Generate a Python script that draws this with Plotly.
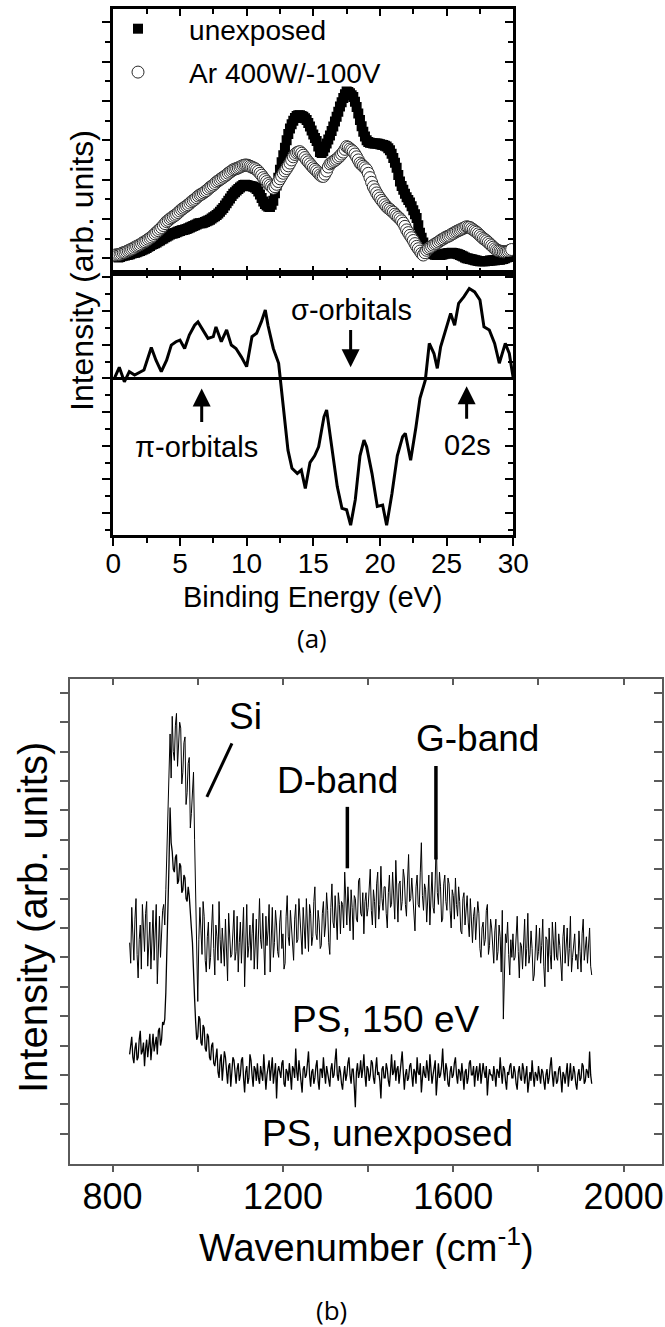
import plotly.graph_objects as go

FONT = "Liberation Sans, Arial, Helvetica, sans-serif"

# ---------------- Panel (a): UPS spectra ----------------
be_start, be_step = 0.125, 0.125          # binding energy grid (eV)
unexposed = [
    0.05, 0.04, 0.02, 0.03, 0.05, 0.06, 0.07, 0.08,
    0.09, 0.10, 0.12, 0.13, 0.14, 0.15, 0.17, 0.18,
    0.20, 0.22, 0.24, 0.26, 0.29, 0.31, 0.34, 0.36,
    0.38, 0.40, 0.43, 0.45, 0.48, 0.50, 0.53, 0.55,
    0.58, 0.60, 0.62, 0.63, 0.64, 0.66, 0.68, 0.69,
    0.71, 0.72, 0.73, 0.74, 0.76, 0.78, 0.80, 0.82,
    0.84, 0.86, 0.88, 0.89, 0.89, 0.90, 0.92, 0.94,
    0.96, 0.98, 1.01, 1.04, 1.07, 1.10, 1.14, 1.18,
    1.23, 1.28, 1.34, 1.40, 1.46, 1.52, 1.58, 1.64,
    1.68, 1.72, 1.76, 1.80, 1.83, 1.86, 1.87, 1.86,
    1.85, 1.84, 1.83, 1.82, 1.80, 1.76, 1.70, 1.62,
    1.53, 1.44, 1.38, 1.34, 1.31, 1.30, 1.36, 1.46,
    1.65, 1.85, 2.05, 2.25, 2.44, 2.62, 2.81, 3.00,
    3.16, 3.30, 3.41, 3.50, 3.57, 3.62, 3.64, 3.64,
    3.62, 3.60, 3.56, 3.52, 3.44, 3.35, 3.25, 3.15,
    3.06, 2.98, 2.84, 2.70, 2.68, 2.72, 2.82, 2.92,
    3.02, 3.12, 3.24, 3.35, 3.48, 3.60, 3.73, 3.86,
    3.97, 4.08, 4.17, 4.24, 4.23, 4.20, 4.15, 4.10,
    3.98, 3.85, 3.68, 3.52, 3.36, 3.22, 3.10, 3.00,
    2.96, 2.94, 2.93, 2.92, 2.92, 2.92, 2.91, 2.90,
    2.89, 2.88, 2.86, 2.84, 2.80, 2.75, 2.66, 2.55,
    2.43, 2.30, 2.12, 1.95, 1.84, 1.74, 1.64, 1.55,
    1.48, 1.42, 1.32, 1.22, 1.12, 1.02, 0.84, 0.65,
    0.52, 0.40, 0.30, 0.21, 0.18, 0.15, 0.12, 0.10,
    0.09, 0.08, 0.08, 0.08, 0.09, 0.10, 0.11, 0.12,
    0.13, 0.13, 0.14, 0.13, 0.12, 0.11, 0.10, 0.08,
    0.06, 0.04, 0.02, 0.00, -0.01, -0.02, -0.03, -0.04,
    -0.05, -0.06, -0.07, -0.08, -0.08, -0.08, -0.08, -0.07,
    -0.07, -0.06, -0.06, -0.05, -0.05, -0.04, -0.04, -0.04,
    -0.03, -0.02, 0.00, 0.02, 0.03, 0.04, 0.05,
]
ar_exposed = [
    0.08, 0.08, 0.09, 0.10, 0.12, 0.14, 0.15, 0.17,
    0.19, 0.21, 0.23, 0.25, 0.28, 0.30, 0.32, 0.34,
    0.37, 0.40, 0.42, 0.45, 0.48, 0.51, 0.54, 0.58,
    0.62, 0.66, 0.70, 0.74, 0.78, 0.83, 0.88, 0.93,
    0.96, 1.00, 1.03, 1.06, 1.09, 1.12, 1.16, 1.20,
    1.24, 1.27, 1.30, 1.33, 1.36, 1.40, 1.44, 1.47,
    1.50, 1.54, 1.58, 1.61, 1.63, 1.66, 1.69, 1.72,
    1.76, 1.80, 1.83, 1.86, 1.90, 1.94, 1.97, 2.00,
    2.03, 2.06, 2.09, 2.12, 2.16, 2.19, 2.22, 2.25,
    2.27, 2.28, 2.30, 2.32, 2.34, 2.36, 2.37, 2.37,
    2.36, 2.34, 2.32, 2.30, 2.28, 2.25, 2.21, 2.16,
    2.11, 2.05, 2.00, 1.95, 1.90, 1.86, 1.82, 1.78,
    1.82, 1.88, 1.95, 2.02, 2.09, 2.16, 2.22, 2.28,
    2.35, 2.42, 2.50, 2.58, 2.64, 2.68, 2.70, 2.71,
    2.67, 2.62, 2.56, 2.50, 2.45, 2.40, 2.35, 2.30,
    2.26, 2.22, 2.17, 2.12, 2.09, 2.08, 2.14, 2.22,
    2.32, 2.40, 2.43, 2.46, 2.49, 2.52, 2.56, 2.60,
    2.65, 2.70, 2.77, 2.84, 2.82, 2.78, 2.75, 2.71,
    2.65, 2.58, 2.50, 2.42, 2.38, 2.34, 2.30, 2.25,
    2.16, 2.05, 1.93, 1.82, 1.74, 1.66, 1.59, 1.53,
    1.47, 1.42, 1.36, 1.31, 1.27, 1.24, 1.20, 1.17,
    1.12, 1.08, 1.04, 1.00, 0.95, 0.89, 0.81, 0.72,
    0.65, 0.58, 0.52, 0.45, 0.37, 0.30, 0.24, 0.18,
    0.12, 0.08, 0.14, 0.20, 0.24, 0.27, 0.30, 0.33,
    0.36, 0.38, 0.41, 0.44, 0.47, 0.49, 0.52, 0.54,
    0.56, 0.58, 0.61, 0.63, 0.66, 0.68, 0.70, 0.72,
    0.74, 0.76, 0.78, 0.80, 0.79, 0.78, 0.75, 0.72,
    0.69, 0.66, 0.62, 0.58, 0.54, 0.50, 0.47, 0.44,
    0.40, 0.36, 0.32, 0.28, 0.24, 0.21, 0.19, 0.18,
    0.17, 0.16, 0.16, 0.17, 0.18, 0.20, 0.22,
]
diff_x = [0.08, 0.45, 0.83, 1.2, 1.6, 2.0, 2.3, 2.85, 3.2, 3.6, 4.0, 4.35, 4.7, 5.0,
          5.35, 5.7, 6.1, 6.35, 6.7, 7.1, 7.5, 7.7, 8.1, 8.5, 8.85, 9.2, 9.6, 10.0,
          10.4, 10.75, 11.1, 11.4, 11.6, 12.0, 12.4, 12.6, 12.9, 13.1, 13.4, 13.8,
          14.1, 14.4, 14.75, 15.1, 15.4, 15.8, 16.0, 16.4, 16.8, 17.15, 17.5, 17.8,
          18.15, 18.5, 18.8, 19.0, 19.4, 19.8, 20.2, 20.5, 20.9, 21.3, 21.7, 21.9,
          22.3, 22.7, 23.0, 23.4, 23.7, 24.05, 24.3, 24.55, 24.9, 25.3, 25.6, 25.9,
          26.3, 26.7, 27.1, 27.5, 27.8, 28.2, 28.6, 28.95, 29.4, 29.7, 30.0]
diff_y = [0, 0.33, -0.1, 0.2, 0.1, 0.2, 0.25, 0.92, 0.54, 0.2, 0.54, 0.99, 1.09, 1.14,
          0.89, 1.29, 1.58, 1.68, 1.44, 1.19, 1.24, 1.53, 1.09, 1.44, 0.99, 0.89, 0.64, 0.35,
          1.24, 1.34, 1.68, 2.03, 1.58, 0.89, 0.45, -0.25, -1.24, -2.13, -2.67, -2.82,
          -2.72, -3.27, -2.5, -2.3, -2.03, -1.14, -0.94, -2.03, -3.22, -3.86, -3.9, -4.36,
          -3.6, -2.3, -1.83, -2.03, -2.82, -3.8, -3.76, -4.36, -3.42, -2.3, -1.73, -1.63,
          -2.43, -1.44, -0.59, -0.05, 1.04, 0.74, 0.3, 0.94, 1.39, 1.93, 1.58, 2.23,
          2.43, 2.67, 2.57, 2.33, 1.53, 1.44, 1.04, 0.45, 1.04, 0.74, 0]
be_ticks = [0, 5, 10, 15, 20, 25, 30]

# ---------------- Panel (b): Raman spectra ----------------
wn_start, wn_step = 840, 2.5             # wavenumber grid (cm-1)
ps_150ev = [
    7.5, 6.8, 8.7, 7.9, 6.9, 8.3, 9.0, 7.1, 6.3, 7.6, 8.1, 6.6, 8.8, 8.0, 7.2, 8.5, 8.9, 6.7, 7.4, 8.2,
    6.6, 7.8, 8.6, 6.9, 7.7, 8.8, 6.1, 7.4, 8.4, 7.0, 8.0, 8.6, 8.8, 8.1, 9.3, 10.6, 12.4, 13.8, 14.6, 13.1,
    15.2, 14.0, 13.7, 14.9, 15.3, 13.5, 14.1, 15.0, 14.8, 12.9, 13.3, 14.3, 14.5, 12.2, 12.6, 13.6, 13.8, 11.4, 11.9, 12.8,
    13.3, 11.0, 9.2, 6.8, 5.5, 7.6, 8.7, 7.9, 7.1, 8.9, 8.4, 6.9, 6.5, 7.7, 8.2, 6.6, 7.0, 8.0, 8.8, 7.3,
    6.4, 8.1, 7.7, 6.9, 8.9, 7.6, 6.8, 8.0, 7.5, 6.7, 8.3, 7.2, 6.2, 8.5, 7.8, 7.0, 7.1, 8.2, 8.6, 6.9,
    7.2, 8.4, 6.5, 7.5, 8.2, 6.8, 7.6, 8.7, 6.0, 7.3, 8.8, 7.0, 7.4, 8.1, 6.9, 7.8, 8.5, 6.6, 7.7, 8.3,
    6.6, 7.9, 9.0, 7.6, 7.3, 8.5, 7.1, 6.4, 8.4, 7.4, 7.9, 8.8, 6.5, 7.7, 8.7, 7.0, 7.5, 8.6, 8.1, 7.2,
    7.0, 8.2, 8.6, 7.3, 7.8, 6.6, 6.8, 8.4, 9.1, 7.7, 7.4, 8.6, 8.0, 7.1, 6.9, 8.3, 8.8, 7.5, 7.6, 9.0,
    8.3, 7.5, 7.1, 8.7, 7.9, 7.3, 9.0, 8.1, 7.2, 8.8, 8.5, 7.4, 7.7, 8.9, 9.4, 7.8, 7.6, 8.6, 8.2, 7.3,
    7.4, 8.5, 8.9, 7.7, 8.1, 9.2, 8.6, 7.5, 7.1, 8.7, 9.5, 8.2, 8.0, 9.1, 8.4, 7.6, 9.2, 8.8, 7.8, 8.9,
    8.8, 8.0, 9.9, 8.6, 8.1, 9.4, 8.5, 7.9, 9.3, 8.7, 7.6, 9.1, 9.0, 8.3, 8.2, 9.6, 9.7, 8.5, 8.4, 9.2,
    7.8, 8.9, 9.2, 8.4, 8.7, 9.6, 10.0, 8.6, 8.1, 9.3, 8.9, 8.0, 9.5, 9.9, 8.3, 8.8, 10.1, 9.0, 8.6, 9.4,
    9.4, 8.5, 8.0, 9.2, 9.8, 8.7, 8.8, 9.9, 9.1, 8.3, 10.3, 9.0, 8.2, 9.5, 9.6, 8.6, 8.9, 10.0, 9.7, 8.8,
    8.4, 9.6, 10.5, 8.9, 9.0, 9.7, 9.2, 8.5, 7.9, 9.4, 9.8, 8.8, 8.7, 9.9, 10.9, 9.1, 8.6, 9.5, 9.3, 8.2,
    9.1, 9.8, 8.1, 9.0, 9.9, 8.7, 8.5, 9.6, 11.1, 9.2, 8.8, 9.9, 9.4, 8.2, 8.3, 9.5, 9.8, 8.9, 8.6, 9.7,
    9.5, 8.6, 8.0, 9.3, 9.1, 8.3, 9.7, 8.8, 8.4, 9.4, 8.9, 7.9, 7.8, 9.0, 9.2, 8.1, 8.5, 9.1, 8.2, 7.7,
    9.0, 8.2, 7.5, 8.4, 8.7, 7.6, 8.1, 8.9, 8.5, 7.3, 7.0, 8.0, 8.2, 7.4, 7.6, 8.6, 8.8, 7.1, 7.4, 8.3,
    8.0, 7.3, 6.8, 7.9, 8.3, 6.9, 7.2, 8.1, 7.7, 6.5, 8.6, 4.9, 6.6, 7.8, 7.5, 8.2, 7.1, 6.4, 7.6, 7.0,
    7.8, 6.9, 7.0, 8.0, 8.4, 7.2, 6.3, 7.5, 7.4, 6.6, 7.9, 8.3, 6.7, 7.3, 8.5, 6.8, 7.1, 7.9, 7.3, 6.2,
    6.4, 7.5, 8.1, 6.9, 7.2, 8.0, 6.8, 7.4, 8.3, 6.7, 6.0, 7.7, 7.6, 6.5, 8.0, 7.1, 6.6, 8.2, 7.7, 6.9,
    8.2, 7.0, 6.9, 7.8, 7.4, 6.6, 6.2, 7.7, 8.1, 6.8, 7.5, 8.0, 6.7, 7.3, 8.4, 6.5, 7.0, 7.6, 7.8, 6.9,
    7.1, 6.6, 7.9, 7.2, 6.5, 7.8, 8.3, 6.9, 7.2, 7.7, 6.8, 7.4, 8.0, 6.7, 6.4,
]
ps_unexposed = [
    3.7, 4.0, 4.3, 3.6, 3.4, 3.9, 4.1, 3.5, 3.6, 4.2, 4.5, 3.7, 3.8, 4.1, 3.3, 3.9, 4.2, 3.6, 3.9, 4.4,
    3.5, 4.1, 4.4, 3.8, 4.0, 4.3, 3.7, 4.5, 4.6, 4.0, 4.2, 4.8, 4.7, 4.9, 5.8, 7.0, 8.4, 10.2, 12.1, 10.9,
    10.6, 10.0, 9.9, 10.4, 10.5, 9.5, 9.6, 10.2, 10.1, 9.2, 9.3, 9.8, 9.7, 9.0, 8.9, 9.4, 9.1, 8.4, 8.0, 7.5,
    6.8, 5.6, 4.8, 4.2, 4.3, 5.0, 4.9, 4.1, 4.0, 4.7, 4.6, 3.9, 3.8, 4.4, 4.3, 3.6, 3.5, 4.0, 4.1, 3.4,
    3.3, 3.7, 3.9, 3.1, 2.9, 3.5, 3.7, 2.8, 3.2, 3.8, 3.6, 3.0, 2.7, 3.3, 3.4, 2.6, 3.1, 3.6, 3.5, 2.9,
    2.7, 3.2, 3.4, 2.8, 3.0, 3.5, 3.6, 2.9, 2.4, 3.1, 3.3, 2.7, 2.9, 3.7, 3.5, 3.0, 2.6, 3.3, 3.2, 2.8,
    3.4, 2.9, 2.7, 3.3, 3.1, 2.8, 3.7, 3.2, 2.5, 3.0, 3.2, 3.5, 2.8, 3.1, 3.6, 2.7, 3.0, 3.4, 2.2, 3.1,
    3.3, 3.0, 2.9, 3.4, 3.5, 2.7, 2.6, 3.2, 3.1, 2.8, 3.4, 3.0, 2.5, 3.3, 3.2, 2.9, 3.9, 3.1, 2.8, 3.5,
    3.1, 2.8, 2.4, 3.2, 3.3, 2.9, 3.0, 3.4, 3.8, 3.0, 2.6, 3.1, 3.2, 2.7, 2.9, 3.3, 3.5, 2.8, 2.5, 3.2,
    3.2, 2.9, 3.6, 3.1, 2.7, 3.3, 3.1, 2.8, 2.6, 3.2, 3.4, 2.9, 3.0, 3.5, 3.9, 3.0, 2.8, 3.3, 3.1, 2.7,
    2.5, 3.0, 3.3, 2.8, 3.0, 3.4, 3.6, 3.0, 2.7, 3.2, 3.2, 2.6, 1.9, 3.1, 3.4, 2.9, 3.1, 3.5, 2.9, 3.2,
    3.7, 3.0, 2.6, 3.3, 3.2, 2.8, 3.0, 3.5, 3.4, 2.9, 2.7, 3.2, 3.6, 3.0, 3.1, 2.8, 2.2, 3.2, 3.3, 2.9,
    2.9, 3.4, 3.2, 2.8, 2.6, 3.1, 3.7, 3.0, 3.1, 3.5, 2.8, 3.2, 3.3, 2.7, 3.0, 3.4, 3.8, 3.1, 2.5, 3.0,
    3.2, 2.8, 2.9, 3.3, 3.4, 3.0, 2.6, 3.2, 3.1, 2.7, 3.6, 3.1, 3.0, 3.4, 2.4, 2.9, 3.3, 3.0, 2.9, 3.5,
    3.1, 2.8, 3.7, 3.2, 2.7, 3.0, 3.2, 3.5, 2.3, 3.1, 3.4, 2.9, 3.0, 3.3, 3.9, 3.1, 2.8, 3.4, 3.2, 2.7,
    2.6, 3.1, 3.3, 2.9, 3.0, 3.4, 3.6, 3.0, 2.7, 3.2, 3.1, 2.8, 3.4, 3.0, 2.5, 3.1, 3.2, 2.7, 2.9, 3.4,
    3.5, 3.0, 3.0, 3.3, 2.6, 3.1, 3.3, 2.8, 3.1, 3.4, 2.7, 3.0, 3.4, 3.1, 2.9, 3.3, 2.3, 2.9, 3.2, 3.0,
    3.0, 2.8, 3.3, 3.0, 2.6, 3.2, 3.1, 2.9, 3.6, 3.1, 2.7, 3.3, 3.2, 2.8, 2.5, 3.1, 3.0, 3.3, 3.4, 2.9,
    2.9, 3.3, 3.1, 2.7, 2.5, 3.1, 3.3, 2.9, 2.8, 3.4, 3.2, 2.7, 3.0, 3.3, 2.4, 2.9, 3.1, 2.8, 3.5, 3.0,
    2.6, 3.1, 3.0, 2.8, 3.3, 3.0, 2.7, 3.2, 3.1, 2.8, 2.5, 3.0, 3.2, 2.7, 2.9, 3.3, 3.6, 3.0, 2.6, 3.1,
    3.1, 2.7, 2.8, 3.2, 3.3, 2.9, 2.4, 3.1, 3.0, 2.7, 3.2, 3.4, 2.6, 3.0, 3.4, 2.8, 2.9, 3.3, 3.1, 2.7,
    2.5, 3.0, 3.2, 2.8, 2.9, 3.4, 3.3, 2.7, 2.8, 3.2, 3.1, 2.9, 3.8, 3.0, 2.7,
]
wn_tickvals = [800, 1000, 1200, 1400, 1600, 1800, 2000]
wn_ticktext = ["800", "", "1200", "", "1600", "", "2000"]
raman_yticks = list(range(1, 17))

be_x_unexp = [be_start + be_step * i for i in range(len(unexposed))]
be_x_ar = [be_start + be_step * i for i in range(len(ar_exposed))]
wn_x_150 = [wn_start + wn_step * i for i in range(len(ps_150ev))]
wn_x_unexp = [wn_start + wn_step * i for i in range(len(ps_unexposed))]

H, W = 1327, 665
def py(p):  # pixel row -> paper y
    return 1 - p / H
def px(p):
    return p / W

fig = go.Figure()

fig.add_trace(go.Scatter(x=be_x_unexp, y=unexposed, mode="markers", name="\u00a0\u00a0\u00a0\u00a0unexposed",
                         legendgroup="g1",
                         marker=dict(symbol="square", size=10, color="black", line=dict(width=0)),
                         xaxis="x2", yaxis="y2"))
fig.add_trace(go.Scatter(x=be_x_ar, y=ar_exposed, mode="markers", name="\u00a0\u00a0\u00a0\u00a0Ar 400W/-100V",
                         legendgroup="g2",
                         marker=dict(symbol="circle", size=12, color="white", line=dict(color="#2a2a2a", width=1)),
                         xaxis="x2", yaxis="y2"))
fig.add_trace(go.Scatter(x=diff_x, y=diff_y, mode="lines", line=dict(color="black", width=3),
                         showlegend=False, xaxis="x", yaxis="y"))
fig.add_trace(go.Scatter(x=wn_x_150, y=ps_150ev, mode="lines", line=dict(color="black", width=1),
                         showlegend=False, xaxis="x5", yaxis="y5"))
fig.add_trace(go.Scatter(x=wn_x_unexp, y=ps_unexposed, mode="lines", line=dict(color="black", width=1.3),
                         showlegend=False, xaxis="x5", yaxis="y5"))

for xa, ya in [("x3", "y"), ("x", "y3"), ("x2", "y4"), ("x6", "y5"), ("x5", "y6")]:
    fig.add_trace(go.Scatter(x=[None], y=[None], xaxis=xa, yaxis=ya, showlegend=False, hoverinfo="skip"))

A_X = [px(113.3), px(513.3)]
A_TOP = [py(272.7), py(8.7)]
A_BOT = [py(535), py(272.7)]
B_X = [px(70), px(662)]
B_Y = [py(1164), py(679.3)]

A_YR_TOP = [-0.37, 6.35]
A_YR_BOT = [-4.65, 3.14]
B_XR = [700, 2090]
B_YR = [-0.03, 16.46]

blk = "black"
base_a = dict(showgrid=False, zeroline=False, tickcolor=blk, tickwidth=2, linecolor=blk, linewidth=3)
gray = "#5a5a5a"
base_b = dict(showgrid=False, zeroline=False, tickcolor=gray, tickwidth=1.5, linecolor=gray, linewidth=1.5)
def noline(d):
    return {k: v for k, v in d.items() if k not in ("linecolor", "linewidth")}

fig.update_layout(
    width=W, height=H, margin=dict(l=0, r=0, t=0, b=0, autoexpand=False),
    paper_bgcolor="white", plot_bgcolor="white",
    font=dict(family=FONT, color="black"),
    showlegend=True,
    legend=dict(x=px(118), y=py(4), xanchor="left", yanchor="top", bgcolor="rgba(0,0,0,0)",
                font=dict(size=28, family=FONT), traceorder="grouped", tracegroupgap=4,
                itemsizing="trace"),
    xaxis=dict(domain=A_X, anchor="y", range=[0, 30], tickvals=be_ticks, ticks="outside", ticklen=8,
               showline=True, mirror=True, showticklabels=True, tickfont=dict(size=28),
               ticklabelstandoff=-7,
               minor=dict(dtick=2.5, tick0=0, ticks="outside", ticklen=5, tickwidth=2, tickcolor=blk),
               **base_a),
    yaxis=dict(domain=A_BOT, anchor="x", range=A_YR_BOT, tick0=0, dtick=1, ticks="outside", ticklen=8,
               showline=True, mirror=True, showticklabels=False,
               minor=dict(dtick=0.5, tick0=0, ticks="outside", ticklen=5, tickwidth=2, tickcolor=blk),
               **{k: v for k, v in base_a.items() if k != "zeroline"},
               zeroline=True, zerolinewidth=3, zerolinecolor=blk),
    xaxis2=dict(domain=A_X, anchor="y2", range=[0, 30], tick0=0, dtick=5, ticks="inside", ticklen=7,
                showline=True, mirror="ticks", showticklabels=False,
                minor=dict(dtick=2.5, tick0=0, ticks="inside", ticklen=5, tickwidth=2, tickcolor=blk),
                **base_a),
    yaxis2=dict(domain=A_TOP, anchor="x2", range=A_YR_TOP, tick0=0, dtick=1, ticks="outside", ticklen=8,
                showline=True, mirror=True, showticklabels=False,
                minor=dict(dtick=0.5, tick0=0, ticks="outside", ticklen=5, tickwidth=2, tickcolor=blk),
                **base_a),
    xaxis3=dict(overlaying="x", anchor="y", side="top", range=[0, 30], tick0=0, dtick=5, ticks="inside",
                ticklen=7, showline=False, showticklabels=False,
                minor=dict(dtick=2.5, tick0=0, ticks="inside", ticklen=5, tickwidth=2, tickcolor=blk),
                **noline(base_a)),
    yaxis3=dict(overlaying="y", anchor="x", side="right", range=A_YR_BOT, tick0=0, dtick=1, ticks="inside",
                ticklen=8, showline=False, showticklabels=False,
                minor=dict(dtick=0.5, tick0=0, ticks="inside", ticklen=5, tickwidth=2, tickcolor=blk),
                **noline(base_a)),
    yaxis4=dict(overlaying="y2", anchor="x2", side="right", range=A_YR_TOP, tick0=0, dtick=1, ticks="inside",
                ticklen=8, showline=False, showticklabels=False,
                minor=dict(dtick=0.5, tick0=0, ticks="inside", ticklen=5, tickwidth=2, tickcolor=blk),
                **noline(base_a)),
    xaxis5=dict(domain=B_X, anchor="y5", range=B_XR, tickvals=wn_tickvals, ticktext=wn_ticktext,
                ticks="outside", ticklen=6, showline=True, mirror=True, tickfont=dict(size=36),
                ticklabelstandoff=-6, **base_b),
    yaxis5=dict(domain=B_Y, anchor="x5", range=B_YR, tickvals=raman_yticks, ticks="outside", ticklen=8,
                showline=True, mirror=True, showticklabels=False, **base_b),
    xaxis6=dict(overlaying="x5", anchor="y5", side="top", range=B_XR, tickvals=wn_tickvals, ticks="inside",
                ticklen=6, showline=False, showticklabels=False, **noline(base_b)),
    yaxis6=dict(overlaying="y5", anchor="x5", side="right", range=B_YR, tickvals=raman_yticks, ticks="inside",
                ticklen=8, showline=False, showticklabels=False, **noline(base_b)),
)

ann = []
for (xa, tip, tail) in [(17.8, 0.33, 1.48), (6.63, -0.30, -1.34), (26.5, -0.23, -1.24)]:
    ann.append(dict(x=xa, y=tip, ax=xa, ay=tail, xref="x", yref="y", axref="x", ayref="y",
                    showarrow=True, arrowhead=2, arrowsize=1.2, arrowwidth=3, arrowcolor=blk, text=""))
for (t, xa, ya) in [("\u03c3-orbitals", 17.9, 2.03), ("\u03c0-orbitals", 6.25, -2.03), ("02s", 26.6, -1.98)]:
    ann.append(dict(x=xa, y=ya, xref="x", yref="y", text=t, showarrow=False, font=dict(size=29),
                    xanchor="center", yanchor="middle"))

def paper_text(t, x, y, size, angle=0, family=FONT):
    return dict(x=px(x), y=py(y), xref="paper", yref="paper", text=t, showarrow=False,
                xanchor="center", yanchor="middle", textangle=angle, font=dict(size=size, family=family))

ann.append(paper_text("Binding Energy (eV)", 313.3, 597, 29))
ann.append(paper_text("Intensity (arb. units)", 82, 271, 32, -90))
ann.append(paper_text("(a)", 311.7, 638, 26, 0, "Open Sans, Noto Sans, sans-serif"))
for (t, xa, ya) in [("Si", 1111.7, 15.18), ("D-band", 1327.7, 13.03), ("G-band", 1655.8, 14.45),
                    ("PS, 150 eV", 1441.5, 4.87), ("PS, unexposed", 1445.5, 1.0)]:
    ann.append(dict(x=xa, y=ya, xref="x5", yref="y5", text=t, showarrow=False, font=dict(size=37),
                    xanchor="center", yanchor="middle"))
ann.append(paper_text("Wavenumber (cm<sup>-1</sup>)", 366, 1245, 38))
ann.append(paper_text("Intensity (arb. units)", 33, 918, 40, -90))
ann.append(paper_text("(b)", 331.7, 1310, 26, 0, "Open Sans, Noto Sans, sans-serif"))
fig.update_layout(annotations=ann)

shapes = [
    dict(type="line", xref="x5", yref="y5", x0=1080.3, y0=14.28, x1=1021.4, y1=12.46,
         line=dict(color=blk, width=3)),
    dict(type="line", xref="x5", yref="y5", x0=1351.2, y0=12.12, x1=1351.2, y1=10.03,
         line=dict(color=blk, width=3.5)),
    dict(type="line", xref="x5", yref="y5", x0=1559.2, y0=13.51, x1=1559.2, y1=10.33,
         line=dict(color=blk, width=3.5)),
]
fig.update_layout(shapes=shapes)

fig.write_html("out.html")
